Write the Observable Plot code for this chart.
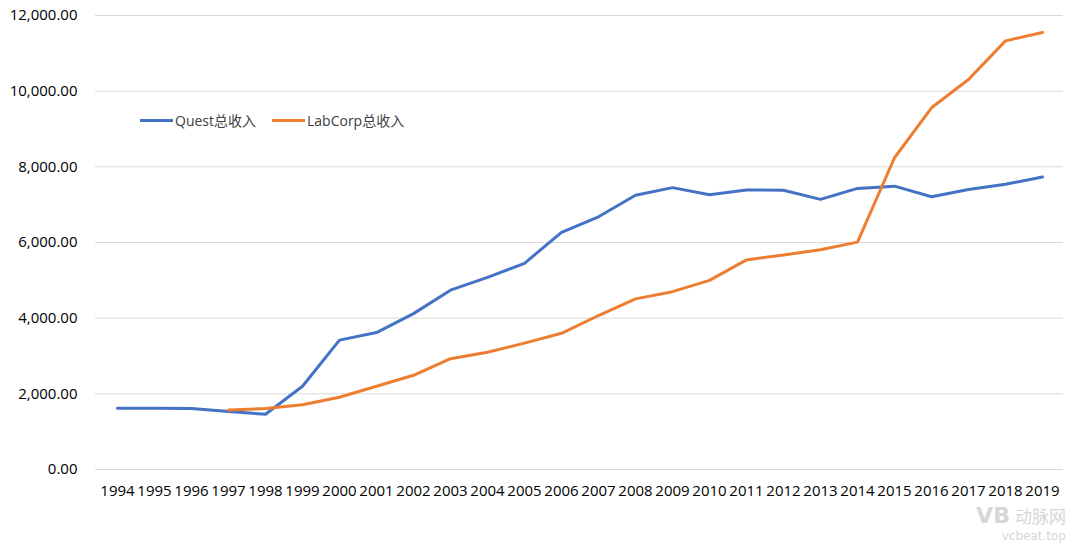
<!DOCTYPE html>
<html>
<head>
<meta charset="utf-8">
<script src="https://cdn.jsdelivr.net/npm/d3@7"></script>
<script src="https://cdn.jsdelivr.net/npm/@observablehq/plot@0.6"></script>
<style>
  html, body { margin: 0; padding: 0; background: #fff; }
  #wrap { position: relative; width: 1080px; height: 547px; overflow: hidden; }
  #legend { position: absolute; left: 140px; top: 110px; font-family: "Open Sans", "Noto Sans CJK SC", sans-serif; font-size: 14px; color: #404040; display: flex; align-items: center; }
  .sw { display: inline-block; width: 33px; height: 3px; margin-right: 2px; }
  .item { display: flex; align-items: center; margin-right: 16px; }
  #wm { position: absolute; right: 14px; bottom: 4px; color: #d6d6d6; font-family: "DejaVu Sans", sans-serif; text-align: right; line-height: 1; }
</style>
</head>
<body>
<div id="wrap">
  <div id="chart"></div>
  <div id="legend">
    <div class="item"><span class="sw" style="background:#4472C4"></span><span>Quest总收入</span></div>
    <div class="item"><span class="sw" style="background:#ED7D31"></span><span>LabCorp总收入</span></div>
  </div>
  <div id="wm"><span style="font-size:22px;font-weight:bold;">VB</span> <span style="font-size:17px;font-family:'Noto Sans CJK SC'">动脉网</span><br><span style="font-size:12px;">vcbeat.top</span></div>
</div>
<script>
const years = ["1994","1995","1996","1997","1998","1999","2000","2001","2002","2003","2004","2005","2006","2007","2008","2009","2010","2011","2012","2013","2014","2015","2016","2017","2018","2019"];
const questValues = [1620,1620,1610,1530,1460,2200,3420,3620,4120,4740,5080,5450,6270,6680,7250,7450,7260,7390,7380,7140,7430,7490,7210,7400,7540,7730];
const labcorpYears = ["1997","1998","1999","2000","2001","2002","2003","2004","2005","2006","2007","2008","2009","2010","2011","2012","2013","2014","2015","2016","2017","2018","2019"];
const labcorpValues = [1570,1610,1710,1910,2200,2490,2930,3100,3340,3600,4070,4510,4700,5000,5540,5670,5810,6010,8240,9560,10310,11330,11550];
const yTicks = [0,2000,4000,6000,8000,10000,12000];

const quest = years.map((y,i) => ({year: y, value: questValues[i]}));
const labcorp = labcorpYears.map((y,i) => ({year: y, value: labcorpValues[i]}));

const chart = Plot.plot({
  width: 1080,
  height: 547,
  marginLeft: 95,
  marginRight: 17,
  marginTop: 15,
  marginBottom: 78,
  style: {fontFamily: "'Open Sans', sans-serif", fontSize: "15px", color: "#000", background: "transparent"},
  x: {type: "point", domain: years, padding: 0.5, label: null, tickSize: 0, tickPadding: 16},
  y: {domain: [0, 12000], ticks: yTicks, tickFormat: d3.format(",.2f"), label: null, tickSize: 0, tickPadding: 18},
  marks: [
    Plot.ruleY(yTicks, {stroke: "#d9d9d9", strokeWidth: 1}),
    Plot.line(quest, {x: "year", y: "value", stroke: "#4472C4", strokeWidth: 3, strokeLinejoin: "round"}),
    Plot.line(labcorp, {x: "year", y: "value", stroke: "#ED7D31", strokeWidth: 3, strokeLinejoin: "round"})
  ]
});
document.getElementById("chart").appendChild(chart);
</script>
</body>
</html>
